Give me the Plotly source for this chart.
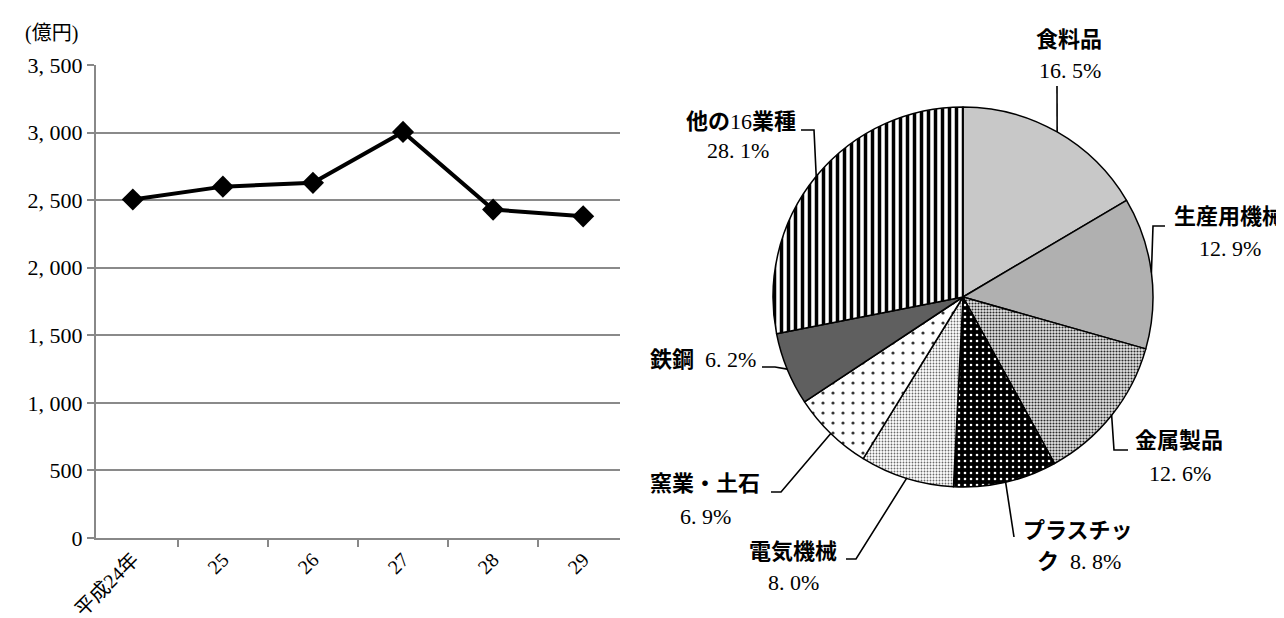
import math
import plotly.graph_objects as go

# left: sales by year (億円)
years = ["平成24年", "25", "26", "27", "28", "29"]
sales = [2505, 2600, 2628, 3005, 2430, 2380]
y_ticks = [0, 500, 1000, 1500, 2000, 2500, 3000, 3500]
y_ticktext = [f"{v:,}".replace(",", ", ") for v in y_ticks]

# right: share by industry (%)
industries = ["食料品", "生産用機械", "金属製品", "プラスチック", "電気機械", "窯業・土石", "鉄鋼", "他の16業種"]
shares = [16.5, 12.9, 12.6, 8.8, 8.0, 6.9, 6.2, 28.1]

W, H = 1284, 618
FONT = "Liberation Serif, Noto Sans CJK JP"

def px(x):
    return x / W

def py(y):
    return 1 - y / H

# pie placement in pixels
cx, cy, r = 955, 289, 190

fig = go.Figure()

fig.add_trace(go.Scatter(
    x=years, y=sales, mode="lines+markers",
    line=dict(color="black", width=4),
    marker=dict(symbol="diamond", size=17, color="black"),
    showlegend=False, hoverinfo="skip",
))

fig.add_trace(go.Pie(
    labels=industries, values=shares, sort=False, direction="clockwise", rotation=0,
    textinfo="none", hoverinfo="skip", showlegend=False,
    domain=dict(x=[px(cx - r), px(cx + r)], y=[py(cy + r), py(cy - r)]),
    marker=dict(
        colors=["#c8c8c8", "#b0b0b0", "#cfcfcf", "#000000", "#ffffff", "#ffffff", "#5f5f5f", "#ffffff"],
        line=dict(color="black", width=1.5),
        pattern=dict(
            shape=["", "", ".", ".", ".", ".", "", "|"],
            fgcolor=["#000", "#000", "#2a2a2a", "#ffffff", "#6a6a6a", "#333333", "#000", "#000000"],
            bgcolor=["#c8c8c8", "#b0b0b0", "#e6e6e6", "#000000", "#ffffff", "#ffffff", "#5f5f5f", "#ffffff"],
            size=[8, 8, 3, 6, 3, 10, 8, 7],
            solidity=[0.3, 0.3, 0.4, 0.15, 0.3, 0.08, 0.3, 0.5],
            fillmode="replace",
        ),
    ),
))

# leader lines: start at the middle of each slice on the rim
leader_paths = [
    [(1049, 78)],
    [(1145, 218), (1157, 218)],
    [(1106, 442), (1120, 442)],
    [(1006, 529)],
    [(848, 551), (838, 551)],
    [(773, 484), (763, 484)],
    [(767, 359), (754, 359)],
    [(806, 122), (793, 122)],
]
label_pos = [
    [(1061, 31), (1062, 63)],
    [(1221, 209), (1222, 241)],
    [(1171, 432), (1172, 465)],
    [(1070, 522), (1071, 553)],
    [(785, 543), (785, 574)],
    [(697, 475), (697, 508)],
    [(695, 351)],
    [(733, 113), (730, 143)],
]

total = sum(shares)
cum = 0
shapes = []
annotations = []
for i, name in enumerate(industries):
    mid = (cum + shares[i] / 2) / total * 2 * math.pi
    cum += shares[i]
    ex = cx + r * math.sin(mid)
    ey = cy - r * math.cos(mid)
    path = f"M {px(ex)},{py(ey)}"
    for (lx, ly) in leader_paths[i]:
        path += f" L {px(lx)},{py(ly)}"
    shapes.append(dict(type="path", path=path, xref="paper", yref="paper",
                       line=dict(color="black", width=1.6)))

    pct = f"{shares[i]:.1f}%".replace(".", ". ")
    if name == "鉄鋼":
        lines = [f"<b>{name}</b>  {pct}"]
    elif name == "プラスチック":
        lines = [f"<b>{name[:-1]}</b>", f"<b>{name[-1]}</b>  {pct}"]
    elif name == "他の16業種":
        lines = ["<b>他の</b>16<b>業種</b>", pct]
    else:
        lines = [f"<b>{name}</b>", pct]
    for text, (lx, ly) in zip(lines, label_pos[i]):
        annotations.append(dict(text=text, x=px(lx), y=py(ly), xref="paper", yref="paper",
                                showarrow=False, xanchor="center", yanchor="middle",
                                font=dict(family=FONT, size=22, color="black")))

annotations.append(dict(text="(億円)", x=px(44), y=py(25), xref="paper", yref="paper",
                        showarrow=False, xanchor="center", yanchor="middle",
                        font=dict(family=FONT, size=20, color="black")))

fig.update_layout(
    width=W, height=H,
    margin=dict(l=0, r=0, t=0, b=0),
    paper_bgcolor="white", plot_bgcolor="white",
    font=dict(family=FONT, size=21, color="black"),
    xaxis=dict(
        domain=[px(88), px(612)], automargin=False,
        type="category", tickangle=-45, tickson="boundaries",
        ticks="outside", ticklen=7, tickcolor="#888", tickwidth=2,
        showline=True, linecolor="#888", linewidth=2,
        showgrid=False, tickfont=dict(family=FONT, size=20),
    ),
    yaxis=dict(
        domain=[py(530), py(57)], automargin=False,
        range=[0, 3500], tickvals=y_ticks, ticktext=y_ticktext,
        ticks="outside", ticklen=7, tickcolor="#888", tickwidth=2,
        showline=True, linecolor="#888", linewidth=2,
        showgrid=True, gridcolor="#8a8a8a", gridwidth=2, zeroline=False,
        tickfont=dict(family=FONT, size=22),
    ),
    shapes=shapes,
    annotations=annotations,
)

fig.write_html("out.html")
